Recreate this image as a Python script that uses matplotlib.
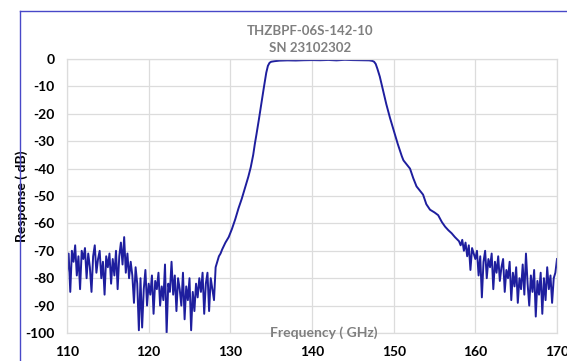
import numpy as np
import matplotlib
matplotlib.use("Agg")
import matplotlib.pyplot as plt
from matplotlib.lines import Line2D

# measured response of the band-pass filter
# noise floor below the passband, 110.0 .. 128.8 GHz in 0.2 GHz steps
noise_lo_db = [
    -78, -71, -85, -70, -74,
    -68, -79, -72, -84, -70,
    -73, -69, -80, -71, -76,
    -85, -72, -68, -78, -73,
    -70, -80, -74, -86, -72,
    -76, -71, -82, -73, -79,
    -70, -84, -72, -67, -75,
    -65, -78, -71, -80, -74,
    -79, -89, -76, -82, -99,
    -80, -98, -84, -77, -90,
    -82, -86, -79, -93, -81,
    -84, -78, -90, -83, -88,
    -75, -100, -82, -85, -74,
    -86, -79, -92, -80, -84,
    -90, -78, -95, -83, -88,
    -80, -99, -85, -92, -82,
    -87, -80, -85, -78, -93,
    -82, -78, -92, -80, -84,
    -88, -76, -74, -72, -71,
]

# skirts and passband
band_freq = [129.0, 129.4, 129.8, 130.2, 130.6, 131.0, 131.4, 131.8, 132.2, 132.5,
             132.8, 133.0, 133.2, 133.5, 133.8, 134.1, 134.4, 134.6, 134.8, 135.0,
             135.4, 136, 137, 138, 139, 140, 141, 142, 143, 144, 145, 146, 147,
             147.4, 147.6, 147.8, 148.0, 148.3, 148.7, 149.1, 149.55, 150.0, 150.5,
             151.0, 151.2, 151.6, 152.0, 152.4, 152.8, 153.2, 153.6, 154.0, 154.45,
             155.0, 155.45, 155.9, 156.3, 156.7, 157.1, 157.5, 158.0]
band_db = [-69.5, -67, -65, -62, -58.5, -54.5, -51, -47, -43, -39.5,
           -35, -31, -27.5, -22, -16.2, -10.5, -5, -2.5, -1.4, -1.0,
           -0.8, -0.6, -0.5, -0.55, -0.45, -0.4, -0.45, -0.35, -0.5, -0.3, -0.4, -0.45, -0.5,
           -0.7, -1.0, -1.8, -3.5, -6.4, -11.5, -16.5, -21.5, -26, -31,
           -35.5, -37, -38.5, -40, -43.5, -46.5, -48, -49.5, -53, -55,
           -56, -57, -59.5, -61.2, -62.5, -63.6, -65, -66.5]

# noise floor above the passband, 158.2 .. 170.0 GHz in 0.2 GHz steps
noise_hi_db = [
    -68, -66, -70, -67, -72, -68, -77, -69, -71,
    -73, -70, -79, -72, -87, -74, -70, -80, -73, -76,
    -71, -84, -74, -78, -72, -81, -76, -73, -85, -77,
    -80, -74, -88, -78, -83, -76, -89, -80, -84, -75,
    -86, -71, -82, -90, -79, -85, -77, -94, -81, -86,
    -78, -93, -80, -88, -76, -84, -79, -89, -80, -78, -73,
]

lo_freq = np.round(110.0 + 0.2 * np.arange(len(noise_lo_db)), 2)
hi_freq = np.round(158.2 + 0.2 * np.arange(len(noise_hi_db)), 2)
freq = np.concatenate([lo_freq, band_freq, hi_freq])
resp = np.concatenate([noise_lo_db, band_db, noise_hi_db])

x_ticks = [110, 120, 130, 140, 150, 160, 170]
y_ticks = [0, -10, -20, -30, -40, -50, -60, -70, -80, -90, -100]

plt.rcParams['font.family'] = ['Lato', 'DejaVu Sans']
plt.rcParams['axes.unicode_minus'] = False

fig = plt.figure(figsize=(5.67, 3.61), dpi=100)
ax = fig.add_axes([67 / 567, 1 - 333 / 361, 490 / 567, 274 / 361])

ax.plot(freq, resp, color='#1e1e9e', lw=1.4)

ax.set_xlim(110, 170)
ax.set_ylim(-100, 0)
ax.set_xticks(x_ticks)
ax.set_yticks(y_ticks)
ax.grid(color='#dcdcdc', lw=0.9)
ax.set_axisbelow(True)
for s in ax.spines.values():
    s.set_color('#dcdcdc')
    s.set_linewidth(0.9)
ax.tick_params(axis='y', length=0, labelsize=10, pad=9)
ax.tick_params(axis='x', length=0, labelsize=10, pad=9)
for lab in ax.get_xticklabels() + ax.get_yticklabels():
    lab.set_fontweight('bold')

ax.set_ylabel('Response ( dB)', fontsize=10, fontweight='bold')
ax.yaxis.set_label_coords(-0.079, 0.5)
ax.text(0.525, 0.0, 'Frequency ( GHz)', transform=ax.transAxes, ha='center', va='center',
        fontsize=10, fontweight='bold', color='#7f7f7f')

fig.text(310 / 567, 1 - 31 / 361, 'THZBPF-06S-142-10', ha='center', va='center',
         fontsize=9.5, fontweight='bold', color='#7f7f7f')
fig.text(310 / 567, 1 - 48 / 361, 'SN 23102302', ha='center', va='center',
         fontsize=9.5, fontweight='bold', color='#7f7f7f')

# blue frame of the chart area (right and bottom edges fall outside)
bx, by = 20 / 567, 1 - 11 / 361
fig.add_artist(Line2D([bx, 1.0], [by, by], transform=fig.transFigure, color='#4848c8', lw=1.0))
fig.add_artist(Line2D([bx, bx], [by, 0.0], transform=fig.transFigure, color='#4848c8', lw=1.0))

fig.savefig('out.png', dpi=100)
